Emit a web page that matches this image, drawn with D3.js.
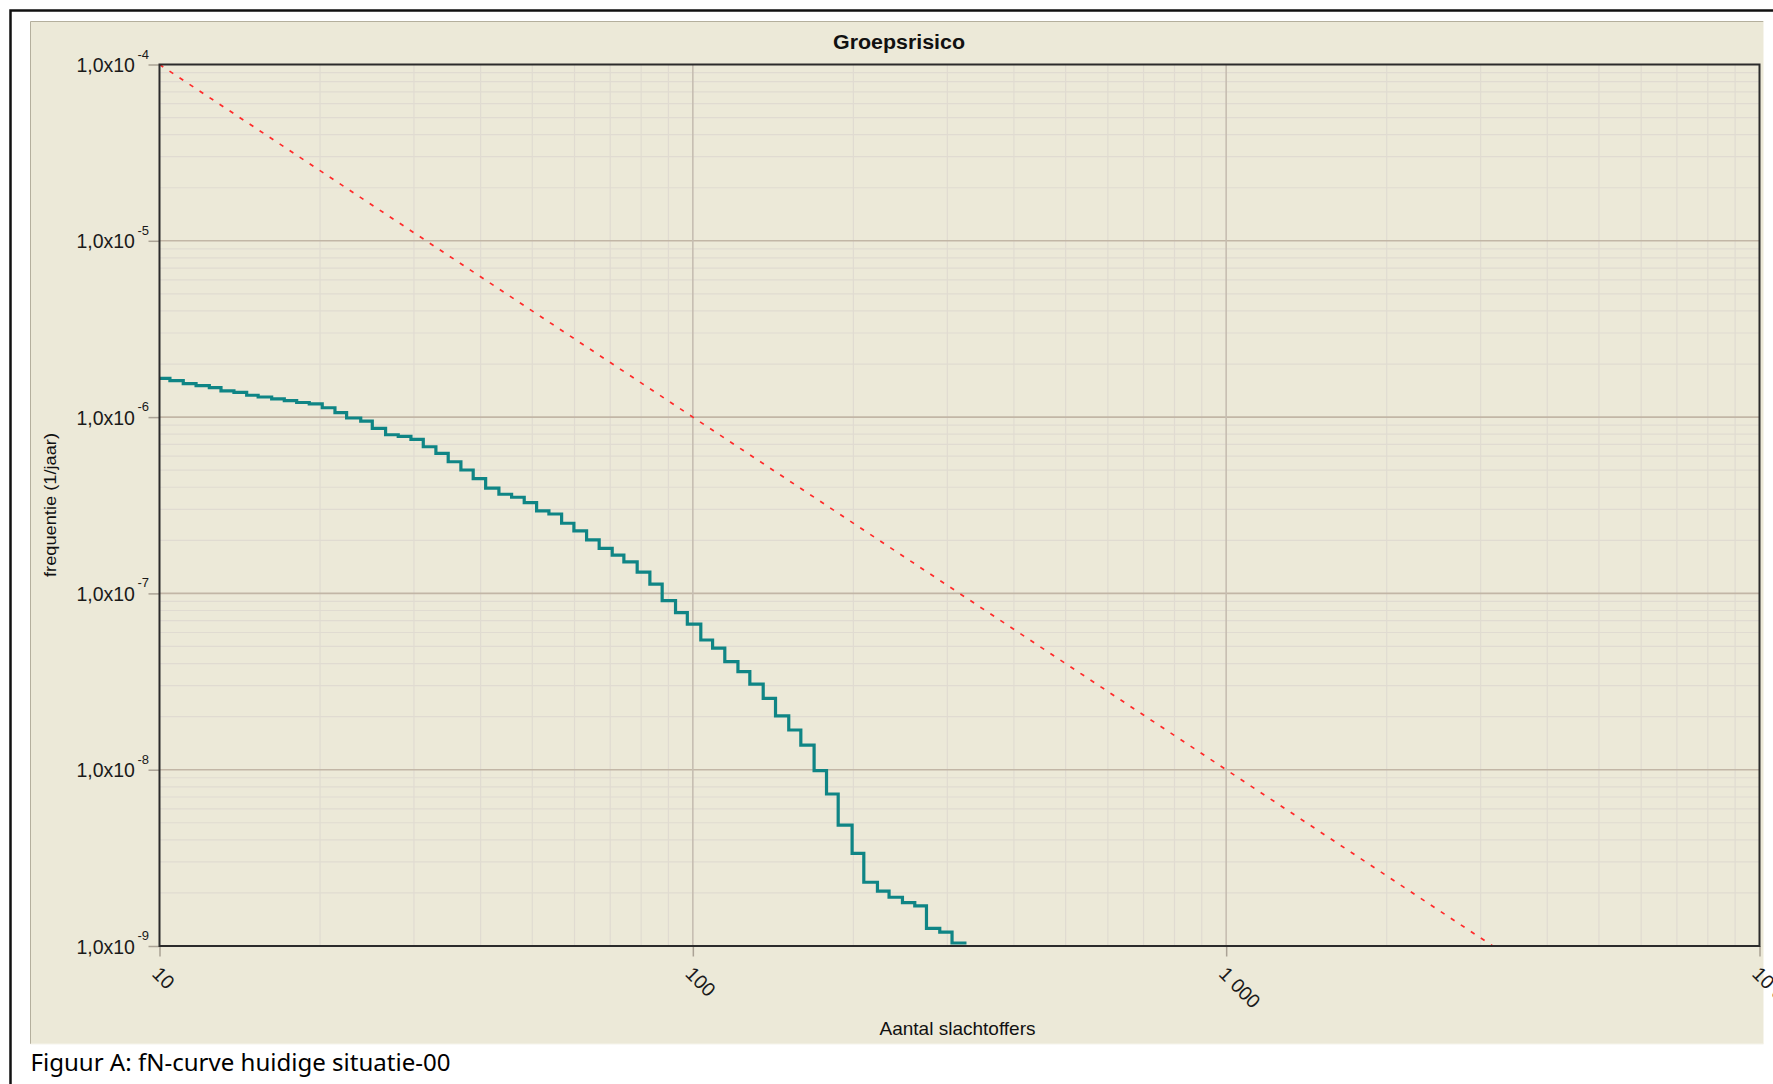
<!DOCTYPE html>
<html><head><meta charset="utf-8">
<script src="https://cdn.jsdelivr.net/npm/d3@7"></script>
<style>body{margin:0;background:#fff}svg{display:block}</style>
</head><body><svg id="c" width="1773" height="1084"></svg>
<script>
// ---------- data ----------
const chartTitle = "Groepsrisico";
const xAxisTitle = "Aantal slachtoffers";
const yAxisTitle = "frequentie (1/jaar)";
const captionText = "Figuur A: fN-curve huidige situatie-00";

const xTickValues = [10, 100, 1000, 10000];
const xTickLabels = ["10", "100", "1 000", "10 000"];
const yTickValues = [1e-4, 1e-5, 1e-6, 1e-7, 1e-8, 1e-9];
const yTickMantissa = "1,0x10";
const yTickExponents = ["-4", "-5", "-6", "-7", "-8", "-9"];

// fN curve: step start points N (last value = end of last step) and step frequencies
const stepN = [10, 10.46, 11.08, 11.71, 12.40, 13.04, 13.79, 14.57, 15.31, 16.23, 17.14, 18.08, 19.09, 20.19,
  21.33, 22.43, 23.84, 25.06, 26.54, 28.03, 29.61, 31.23, 32.98, 34.78, 36.74, 38.74, 40.88, 43.29, 45.73,
  48.29, 50.94, 53.72, 56.75, 59.84, 63.21, 66.74, 70.60, 74.25, 78.64, 83.07, 87.60, 92.80, 97.65, 103.5,
  108.9, 114.8, 121.5, 127.9, 135.5, 142.9, 151.3, 159.4, 168.8, 178.1, 187.3, 198.9, 209.2, 221.9, 233.3,
  247.2, 260.7, 274.2, 290.4, 306.2, 325.9];
const stepF = [1.66e-6, 1.61e-6, 1.55e-6, 1.51e-6, 1.47e-6, 1.41e-6, 1.38e-6, 1.33e-6, 1.30e-6, 1.27e-6,
  1.24e-6, 1.21e-6, 1.19e-6, 1.13e-6, 1.06e-6, 9.88e-7, 9.50e-7, 8.63e-7, 7.94e-7, 7.78e-7, 7.48e-7,
  6.79e-7, 6.23e-7, 5.58e-7, 5.01e-7, 4.48e-7, 3.95e-7, 3.65e-7, 3.51e-7, 3.27e-7, 2.94e-7, 2.82e-7,
  2.50e-7, 2.26e-7, 2.01e-7, 1.80e-7, 1.65e-7, 1.51e-7, 1.32e-7, 1.13e-7, 9.09e-8, 7.78e-8, 6.70e-8,
  5.44e-8, 4.89e-8, 4.10e-8, 3.60e-8, 3.06e-8, 2.54e-8, 2.02e-8, 1.68e-8, 1.38e-8, 9.87e-9, 7.28e-9,
  4.85e-9, 3.35e-9, 2.30e-9, 2.05e-9, 1.89e-9, 1.76e-9, 1.69e-9, 1.26e-9, 1.20e-9, 1.04e-9];

// oriëntatiewaarde (norm line)
const normN = [10, 100, 1000, 3162];
const normF = [1e-4, 1e-6, 1e-8, 1e-9];

// ---------- layout ----------
const W = 1773, H = 1084;
const plot = {left: 159.5, right: 1759.5, top: 64.5, bottom: 946};
const BG = "#ECE9D8";
const FONT = "'Liberation Sans', Arial, sans-serif";

const svg = d3.select("#c");
svg.append("rect").attr("width", W).attr("height", H).attr("fill", "#fff");

// outer frame
svg.append("path").attr("d", `M10.5,${H + 5}V10.5H${W + 5}`)
  .attr("fill", "none").attr("stroke", "#111").attr("stroke-width", 2.5);

// panel
svg.append("rect").attr("x", 30.5).attr("y", 21.5).attr("width", 1733).attr("height", 1022.5)
  .attr("fill", BG);
svg.append("path").attr("d", "M30.5,1044V21.5H1763.5").attr("fill", "none")
  .attr("stroke", "#b4af9d").attr("stroke-width", 1);
svg.append("path").attr("d", "M1763.5,21.5V1044H30.5").attr("fill", "none")
  .attr("stroke", "#f6f4ec").attr("stroke-width", 1);

const x = d3.scaleLog().domain([10, 10000]).range([plot.left, plot.right]);
const y = d3.scaleLog().domain([1e-9, 1e-4]).range([plot.bottom, plot.top]);

const isMajor = v => Math.abs(Math.log10(v) - Math.round(Math.log10(v))) < 1e-9;

// grid
const grid = svg.append("g");
const xMinor = x.ticks().filter(v => !isMajor(v));
const yMinor = y.ticks().filter(v => !isMajor(v));
grid.selectAll(".ym").data(yMinor).join("line")
  .attr("x1", plot.left).attr("x2", plot.right)
  .attr("y1", d => y(d)).attr("y2", d => y(d))
  .attr("stroke", "#e0dbd1").attr("stroke-width", 1.2);
grid.selectAll(".xm").data(xMinor).join("line")
  .attr("y1", plot.top).attr("y2", plot.bottom)
  .attr("x1", d => x(d)).attr("x2", d => x(d))
  .attr("stroke", "#e0dbd1").attr("stroke-width", 1.2);
grid.selectAll(".yM").data(yTickValues.slice(1, -1)).join("line")
  .attr("x1", plot.left).attr("x2", plot.right)
  .attr("y1", d => y(d)).attr("y2", d => y(d))
  .attr("stroke", "#c2b6a6").attr("stroke-width", 1.6);
grid.selectAll(".xM").data(xTickValues.slice(1, -1)).join("line")
  .attr("y1", plot.top).attr("y2", plot.bottom)
  .attr("x1", d => x(d)).attr("x2", d => x(d))
  .attr("stroke", "#c6bdb1").attr("stroke-width", 1.6);

// y axis
const yAxis = svg.append("g").attr("transform", `translate(${plot.left},0)`)
  .call(d3.axisLeft(y).tickValues(yTickValues).tickSize(11).tickFormat(""));
yAxis.select(".domain").remove();
yAxis.selectAll(".tick line").attr("stroke", "#aaa295").attr("stroke-width", 1.5);
yAxis.selectAll(".tick text").each(function (d, i) {
  const t = d3.select(this).attr("x", -10.5).attr("y", 7).attr("dy", null)
    .attr("text-anchor", "end").attr("fill", "#1a1a1a").attr("font-family", FONT).attr("font-size", 19.5);
  t.append("tspan").text(yTickMantissa);
  t.append("tspan").attr("font-size", 13).attr("dx", 2.5).attr("dy", -13.5).text(yTickExponents[i]);
});

// x axis
const xAxis = svg.append("g").attr("transform", `translate(0,${plot.bottom})`)
  .call(d3.axisBottom(x).tickValues(xTickValues).tickSize(10.5).tickFormat((d, i) => xTickLabels[i]));
xAxis.select(".domain").remove();
xAxis.selectAll(".tick line").attr("stroke", "#aaa295").attr("stroke-width", 1.5);
xAxis.selectAll(".tick text")
  .attr("x", 0).attr("y", 0).attr("dy", null)
  .attr("text-anchor", "start")
  .attr("transform", "translate(-9,29) rotate(45)")
  .attr("fill", "#1a1a1a").attr("font-family", FONT).attr("font-size", 19.5);

// norm line (red dashed)
const normPts = normN.map((n, i) => [n, normF[i]]);
svg.append("path").datum(normPts)
  .attr("d", d3.line().x(d => x(d[0])).y(d => y(d[1])))
  .attr("fill", "none").attr("stroke", "#ff2a2a").attr("stroke-width", 1.7)
  .attr("stroke-dasharray", "4.5,7.5");

// fN curve
const stepPts = stepF.map((f, i) => [stepN[i], f]);
stepPts.push([stepN[stepN.length - 1], stepF[stepF.length - 1]]);
svg.append("path").datum(stepPts)
  .attr("d", d3.line().curve(d3.curveStepAfter).x(d => x(d[0])).y(d => y(d[1])))
  .attr("fill", "none").attr("stroke", "#0f8585").attr("stroke-width", 3.2)
  .attr("stroke-linejoin", "miter");

// plot border
svg.append("rect").attr("x", plot.left).attr("y", plot.top)
  .attr("width", plot.right - plot.left).attr("height", plot.bottom - plot.top)
  .attr("fill", "none").attr("stroke", "#2b2b2b").attr("stroke-width", 2);

// titles
svg.append("text").attr("x", 899).attr("y", 48.5).attr("text-anchor", "middle")
  .attr("font-family", FONT).attr("font-weight", "bold").attr("font-size", 19.5)
  .attr("fill", "#111").attr("textLength", 132).attr("lengthAdjust", "spacingAndGlyphs").text(chartTitle);
svg.append("text").attr("x", 957.5).attr("y", 1035).attr("text-anchor", "middle")
  .attr("font-family", FONT).attr("font-size", 18.5).attr("fill", "#111")
  .attr("textLength", 156).attr("lengthAdjust", "spacingAndGlyphs").text(xAxisTitle);
svg.append("text").attr("transform", "translate(56,505) rotate(-90)").attr("text-anchor", "middle")
  .attr("font-family", FONT).attr("font-size", 17).attr("fill", "#111")
  .attr("textLength", 144).attr("lengthAdjust", "spacingAndGlyphs").text(yAxisTitle);

// caption
svg.append("text").attr("x", 30.5).attr("y", 1071)
  .attr("font-family", "'Noto Sans', 'Open Sans', sans-serif").attr("font-size", 24).attr("fill", "#000")
  .attr("textLength", 420).attr("lengthAdjust", "spacingAndGlyphs").text(captionText);
</script></body></html>
